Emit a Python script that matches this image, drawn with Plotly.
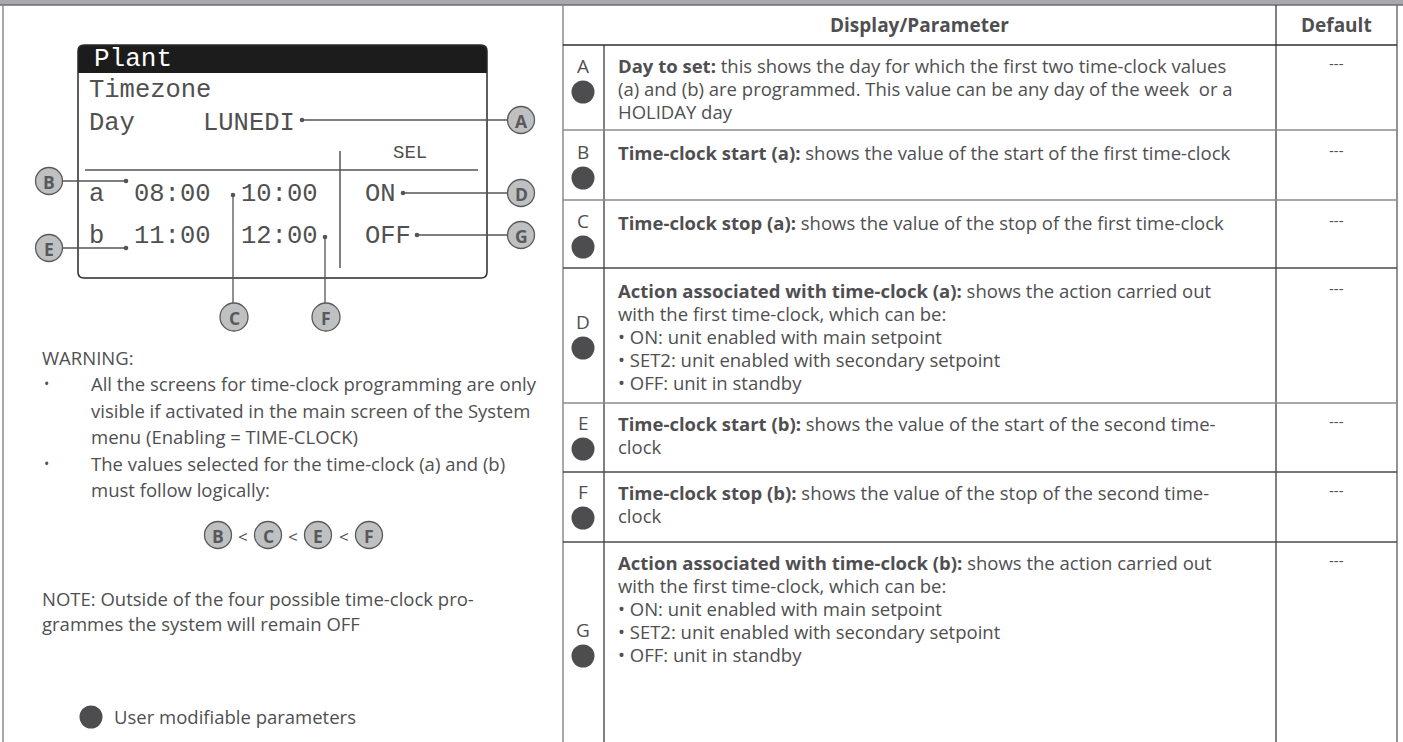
import plotly.graph_objects as go

# ---------------- content ----------------
lcd_title = "Plant"
lcd_menu = "Timezone"
lcd_day_label = "Day"
lcd_day_value = "LUNEDI"
lcd_sel = "SEL"
slot_labels = ["a", "b"]
start_times = ["08:00", "11:00"]
stop_times = ["10:00", "12:00"]
slot_actions = ["ON", "OFF"]

header_param = "Display/Parameter"
header_default = "Default"
param_letters = ["A", "B", "C", "D", "E", "F", "G"]
param_titles = [
    "Day to set:",
    "Time-clock start (a):",
    "Time-clock stop (a):",
    "Action associated with time-clock (a):",
    "Time-clock start (b):",
    "Time-clock stop (b):",
    "Action associated with time-clock (b):",
]
param_lines = [
    ["this shows the day for which the first two time-clock values",
     "(a) and (b) are programmed. This value can be any day of the week  or a",
     "HOLIDAY day"],
    ["shows the value of the start of the first time-clock"],
    ["shows the value of the stop of the first time-clock"],
    ["shows the action carried out",
     "with the first time-clock, which can be:",
     "• ON: unit enabled with main setpoint",
     "• SET2: unit enabled with secondary setpoint",
     "• OFF: unit in standby"],
    ["shows the value of the start of the second time-", "clock"],
    ["shows the value of the stop of the second time-", "clock"],
    ["shows the action carried out",
     "with the first time-clock, which can be:",
     "• ON: unit enabled with main setpoint",
     "• SET2: unit enabled with secondary setpoint",
     "• OFF: unit in standby"],
]
param_defaults = ["---", "---", "---", "---", "---", "---", "---"]

warning_title = "WARNING:"
warning_bullets = [
    ["All the screens for time-clock programming are only",
     "visible if activated in the main screen of the System",
     "menu (Enabling = TIME-CLOCK)"],
    ["The values selected for the time-clock (a) and (b)",
     "must follow logically:"],
]
order_letters = ["B", "C", "E", "F"]
note_lines = ["NOTE: Outside of the four possible time-clock pro-",
              "grammes the system will remain OFF"]
legend_text = "User modifiable parameters"

# ---------------- styling / layout ----------------
W, H = 1403, 742
TXT = "#4f4f51"
DARK = "#3c3c3e"
LINE = "#6d6e71"
CIRC_FILL = "#bfc0c2"
DOT_FILL = "#4d4d4f"
SANS = "Open Sans"
MONO = "Liberation Mono"
LCD_COL = "#505050"
FS = 18.5

shapes = []
ann = []


def line(x0, y0, x1, y1, color=LINE, width=1.5):
    shapes.append(dict(type="line", x0=x0, y0=y0, x1=x1, y1=y1,
                       line=dict(color=color, width=width), layer="above"))


def circle(cx, cy, r, fill, edge=None, ew=1.3):
    shapes.append(dict(type="circle", x0=cx - r, x1=cx + r, y0=cy - r, y1=cy + r,
                       fillcolor=fill,
                       line=dict(color=edge if edge else fill, width=ew if edge else 0),
                       layer="above"))


def text(x, y, s, size=FS, color=TXT, family=SANS, xa="left", ya="middle"):
    ann.append(dict(x=x, y=y, text=s, showarrow=False, xref="x", yref="y",
                    xanchor=xa, yanchor=ya,
                    font=dict(size=size, color=color, family=family)))


def callout(cx, cy, letter, r=13.5):
    circle(cx, cy, r, CIRC_FILL, "#58595b", 1.3)
    text(cx, cy + 1, "<b>%s</b>" % letter, size=17.5, color="#58595b", xa="center")


# top band & outer borders
shapes.append(dict(type="rect", x0=0, x1=W, y0=0, y1=5, fillcolor="#a7a9ac",
                   line=dict(width=0), layer="below"))
line(0, 5, W, 5, "#6d6e71", 1.5)
line(3, 5, 3, H, "#8a8b8d", 1.5)

# ---------------- LCD ----------------
x0, x1, y0, y1, rr = 78, 487, 45, 278, 6
shapes.append(dict(type="path",
                   path=f"M {x0},73 L {x0},{y0+rr} Q {x0},{y0} {x0+rr},{y0} L {x1-rr},{y0} "
                        f"Q {x1},{y0} {x1},{y0+rr} L {x1},73 Z",
                   fillcolor="#1c1c1c", line=dict(width=0), layer="above"))
shapes.append(dict(type="path",
                   path=f"M {x0+rr},{y0} L {x1-rr},{y0} Q {x1},{y0} {x1},{y0+rr} L {x1},{y1-rr} "
                        f"Q {x1},{y1} {x1-rr},{y1} L {x0+rr},{y1} Q {x0},{y1} {x0},{y1-rr} "
                        f"L {x0},{y0+rr} Q {x0},{y0} {x0+rr},{y0} Z",
                   line=dict(color="#2a2a2a", width=1.5), layer="above"))
text(92, 59, lcd_title, size=26, color="white", family=MONO)
text(87, 90, lcd_menu, size=25.5, color=LCD_COL, family=MONO)
text(87, 123, lcd_day_label, size=25.5, color=LCD_COL, family=MONO)
text(201, 123, lcd_day_value, size=25.5, color=LCD_COL, family=MONO)
text(410, 153, lcd_sel, size=19, color=LCD_COL, family=MONO, xa="center")
line(85, 170, 478, 170, "#555", 1.5)
line(340, 151, 340, 268, "#555", 1.5)
row_y = [194, 236]
for i in range(2):
    text(87, row_y[i], slot_labels[i], size=25.5, color=LCD_COL, family=MONO)
    text(132, row_y[i], start_times[i], size=25.5, color=LCD_COL, family=MONO)
    text(239, row_y[i], stop_times[i], size=25.5, color=LCD_COL, family=MONO)
    text(363, row_y[i], slot_actions[i], size=25.5, color=LCD_COL, family=MONO)

# callouts
CX_R = 521
dots = [(302, 120), (403, 193), (417, 235), (126, 181), (126, 248), (233, 195), (325, 237)]
for dx, dy in dots:
    circle(dx, dy, 2.3, "#555")
line(302, 120, CX_R - 13.5, 120, "#555", 1.3)
line(403, 193, CX_R - 13.5, 193, "#555", 1.3)
line(417, 235, CX_R - 13.5, 235, "#555", 1.3)
line(49 + 13.5, 181, 126, 181, "#555", 1.3)
line(49 + 13.5, 248, 126, 248, "#555", 1.3)
line(233, 195, 233, 317 - 14, "#555", 1.3)
line(325, 237, 325, 317 - 14, "#555", 1.3)
callout(CX_R, 120, param_letters[0])
callout(CX_R, 193, param_letters[3])
callout(CX_R, 235, param_letters[6])
callout(49, 181, param_letters[1])
callout(49, 248, param_letters[4])
callout(234, 317, param_letters[2], 14)
callout(326, 317, param_letters[5], 14)

# ---------------- left text ----------------
text(40, 357, warning_title)
bl_y = [[383, 410, 436], [463, 489]]
for b, lines in enumerate(warning_bullets):
    text(42, bl_y[b][0], "•", size=14)
    for j, s in enumerate(lines):
        text(89, bl_y[b][j], s)
ox = [218, 268, 318, 369]
for k, L in enumerate(order_letters):
    callout(ox[k], 535, L, 13.5)
    if k < 3:
        text((ox[k] + ox[k + 1]) / 2, 536, "&lt;", size=17, xa="center")
for j, s in enumerate(note_lines):
    text(40, 598 + 25 * j, s)
circle(91, 717, 11.5, DOT_FILL)
text(112, 716, legend_text)

# ---------------- table ----------------
TL, TC, TD, TR = 563, 604, 1276, 1397
row_bounds = [45, 130, 200, 268, 403, 472, 542, H]
line(TL, 5, TL, H, "#8a8b8d", 1.5)
line(TC, 45, TC, H, DARK, 1.3)
line(TD, 5, TD, H, DARK, 1.3)
line(TR, 5, TR, H, "#6d6e71", 1.5)
line(TL, 45, TR, 45, "#2e2e30", 1.5)
row_line_col = ["#8a8b8d", "#8a8b8d", "#4a4a4c", "#8a8b8d", "#4a4a4c", "#4a4a4c"]
for k, yb in enumerate(row_bounds[1:-1]):
    line(TL, yb, TR, yb, row_line_col[k], 1.5)

text((TL + TD) / 2, 25, "<b>%s</b>" % header_param, size=19, xa="center")
text((TD + TR) / 2, 25, "<b>%s</b>" % header_default, size=19, xa="center")

letter_y = [66, 152, 221, 322, 423, 492, 630]
first_line_y = [65, 152, 222, 290, 423, 492, 562]
LS = 23.2
for i in range(len(param_letters)):
    text(583, letter_y[i], param_letters[i], size=19, xa="center")
    circle(583, letter_y[i] + 26, 11.5, DOT_FILL)
    ls = param_lines[i]
    for j, s in enumerate(ls):
        s2 = ("<b>%s</b> " % param_titles[i] + s) if j == 0 else s
        text(616, first_line_y[i] + LS * j, s2)
    text((TD + TR) / 2, first_line_y[i] - 2, param_defaults[i], size=15, xa="center")

fig = go.Figure()
fig.update_layout(
    width=W, height=H, margin=dict(l=0, r=0, t=0, b=0),
    paper_bgcolor="white", plot_bgcolor="white",
    xaxis=dict(range=[0, W], visible=False, fixedrange=True),
    yaxis=dict(range=[H, 0], visible=False, fixedrange=True),
    shapes=shapes, annotations=ann, showlegend=False,
)
fig.write_html("out.html", config={"displayModeBar": False},
               post_script="document.body.style.margin='0px';")
